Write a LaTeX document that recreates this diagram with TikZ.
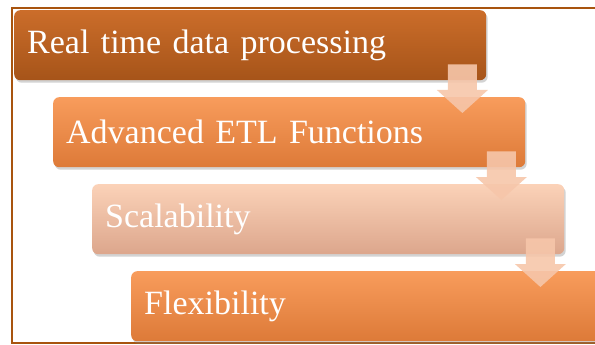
\documentclass[tikz,border=0pt]{standalone}
\usepackage{fontspec}
\setmainfont{Liberation Serif}
\usepackage{tikz}
\usetikzlibrary{calc,shadows}
\definecolor{framebrown}{HTML}{A8540E}
\definecolor{rustTop}{HTML}{CB6D2A}
\definecolor{rustBot}{HTML}{A65419}
\definecolor{orangeTop}{HTML}{F89C5C}
\definecolor{orangeBot}{HTML}{DD7A38}
\definecolor{peachTop}{HTML}{FBD2B8}
\definecolor{peachBot}{HTML}{DCA68C}
\definecolor{arrowpeach}{HTML}{F6C6AA}
\tikzset{
    stepbox/.style={anchor=north west, rounded corners=6pt,
        minimum height=70pt, text width=446pt, inner xsep=13pt,
        align=left, text=white,
        font=\fontsize{34}{40}\selectfont,
        drop shadow={opacity=0.35, shadow xshift=1.5pt, shadow yshift=-2.5pt}},
    flowarrow/.style={fill=arrowpeach, fill opacity=0.9},
}
% block arrow from the lower right of one step down into the next
\newcommand{\stepdown}[2]{%
    \coordinate (#1-top) at ($(#1.south east)+(-24,-16)$);
    \coordinate (#1-tip) at ($(#1-top |- #2.north)+(0,16)$);
    \fill[flowarrow] ($(#1-top)+(-14.5,0)$) -- ($(#1-top)+(14.5,0)$)
        -- ($(#1-tip)+(14.5,-23)$) -- ($(#1-tip)+(25.5,-23)$) -- (#1-tip)
        -- ($(#1-tip)+(-25.5,-23)$) -- ($(#1-tip)+(-14.5,-23)$) -- cycle;
}
\begin{document}
\begin{tikzpicture}[x=1pt, y=-1pt]
    \useasboundingbox (0,0) rectangle (595,345);
    \clip (0,0) rectangle (595,345);
    \draw[framebrown, line width=2pt] (12,8) rectangle (620,343);

    \node[stepbox, top color=rustTop, bottom color=rustBot] (realtime) at (14,10) {Real time data processing};
    \node[stepbox, top color=orangeTop, bottom color=orangeBot] (etl) at (53,97) {Advanced ETL Functions};
    \node[stepbox, top color=peachTop, bottom color=peachBot] (scale) at (92,184) {Scalability};
    \node[stepbox, top color=orangeTop, bottom color=orangeBot] (flex) at (131,271) {Flexibility};

    \stepdown{realtime}{etl}
    \stepdown{etl}{scale}
    \stepdown{scale}{flex}
\end{tikzpicture}
\end{document}
